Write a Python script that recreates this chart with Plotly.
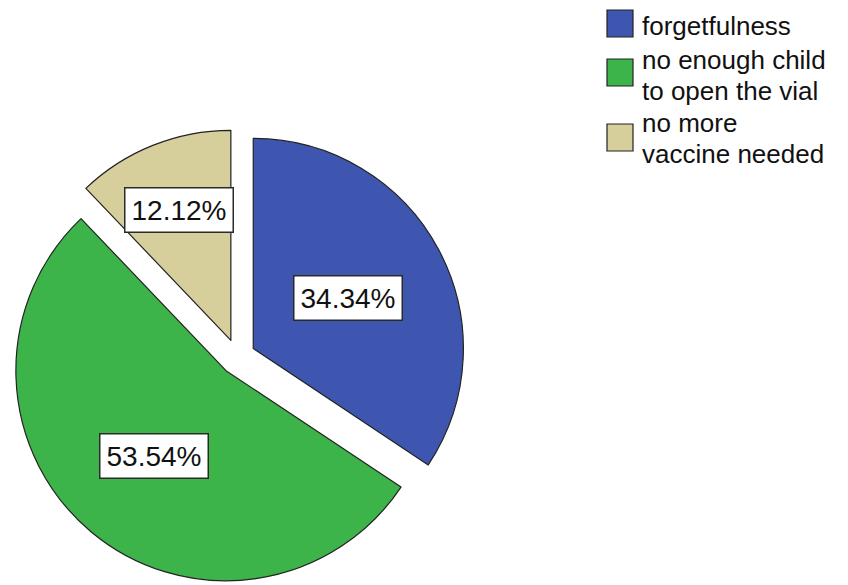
import math
import plotly.graph_objects as go

# ---- data ----
categories = ["forgetfulness", "no enough child\nto open the vial", "no more\nvaccine needed"]
percentages = [34.34, 53.54, 12.12]
colors = ["#3F56B0", "#3CB44A", "#D6CF9C"]

# ---- layout settings ----
OFF = 8                      # page body margin offset (px)
W, H = 848 - OFF, 585 - OFF  # figure size so that it fits the window exactly
PULL = 0.085
FONT = "Arial, 'Liberation Sans', sans-serif"

# target page-pixel geometry of the pie box
pie_cx_page, pie_cy_page, pie_half = 237.5, 357.0, 228.0
dom_x = [(pie_cx_page - pie_half - OFF) / W, (pie_cx_page + pie_half - OFF) / W]
dom_y = [0.0, (2 * pie_half) / H]
label_radius = [0.51, 0.53, 0.67]   # radial position of the % boxes (fraction of radius)


def px_to_paper(xp, yp):
    """page pixel -> paper coords of the figure"""
    return (xp - OFF) / W, 1 - (yp - OFF) / H


fig = go.Figure()
fig.add_trace(go.Pie(
    labels=[c.replace("\n", " ") for c in categories],
    values=percentages,
    sort=False,
    direction="clockwise",
    rotation=0,
    pull=[PULL] * len(percentages),
    marker=dict(colors=colors, line=dict(color="#222222", width=1.2)),
    textinfo="none",
    hoverinfo="label+percent",
    domain=dict(x=dom_x, y=dom_y),
    showlegend=False,
))

# pie geometry (mirrors plotly's own pie scaling) to place the boxed % labels
box_w = W * (dom_x[1] - dom_x[0])
box_h = H * (dom_y[1] - dom_y[0])
r = min(box_w, box_h) / 2 / (1 + PULL)
cx = W * (dom_x[0] + dom_x[1]) / 2
cy = H * (1 - dom_y[0]) - box_h / 2
total = sum(percentages)
cum = 0.0
annotations = []
for v, lr in zip(percentages, label_radius):
    mid = (cum + v / 2) / total * 2 * math.pi  # clockwise from 12 o'clock
    cum += v
    dx, dy = math.sin(mid), -math.cos(mid)
    px = cx + dx * r * (PULL + lr)
    py = cy + dy * r * (PULL + lr)
    annotations.append(dict(
        x=px / W, y=1 - py / H, xref="paper", yref="paper",
        text=f"{v:.2f}%", showarrow=False,
        font=dict(family=FONT, size=28, color="#111111"),
        bgcolor="white", bordercolor="#2a2a2a", borderwidth=1.5, borderpad=6,
        xanchor="center", yanchor="middle",
    ))

# legend (large swatches, tight line spacing like the source)
sw_x0, sw_x1 = 607, 633
text_x = 641
swatch_centers = [23.5, 72.5, 137.5]
text_centers = [25.6, 75.0, 139.0]
LEGEND_GLYPH = 26        # visible glyph size
LEGEND_PITCH_FONT = 23.85  # base size -> line pitch of 1.3 * base px
shapes = []
for cat, col, sc, tc in zip(categories, colors, swatch_centers, text_centers):
    x0, y0 = px_to_paper(sw_x0, sc + 13.5)
    x1, y1 = px_to_paper(sw_x1, sc - 13.5)
    shapes.append(dict(
        type="rect", xref="paper", yref="paper",
        x0=x0, x1=x1, y0=y0, y1=y1,
        fillcolor=col, line=dict(color="#222222", width=1.2),
    ))
    tx, ty = px_to_paper(text_x, tc)
    txt = "<br>".join(f"<span style='font-size:{LEGEND_GLYPH}px'>{ln}</span>"
                      for ln in cat.split("\n"))
    annotations.append(dict(
        x=tx, y=ty, xref="paper", yref="paper",
        text=txt, showarrow=False, align="left",
        font=dict(family=FONT, size=LEGEND_PITCH_FONT, color="#111111"),
        xanchor="left", yanchor="middle", borderpad=0,
    ))

fig.update_layout(
    width=W, height=H,
    margin=dict(l=0, r=0, t=0, b=0),
    paper_bgcolor="white", plot_bgcolor="white",
    annotations=annotations, shapes=shapes,
    showlegend=False,
)

fig.write_html("out.html")
